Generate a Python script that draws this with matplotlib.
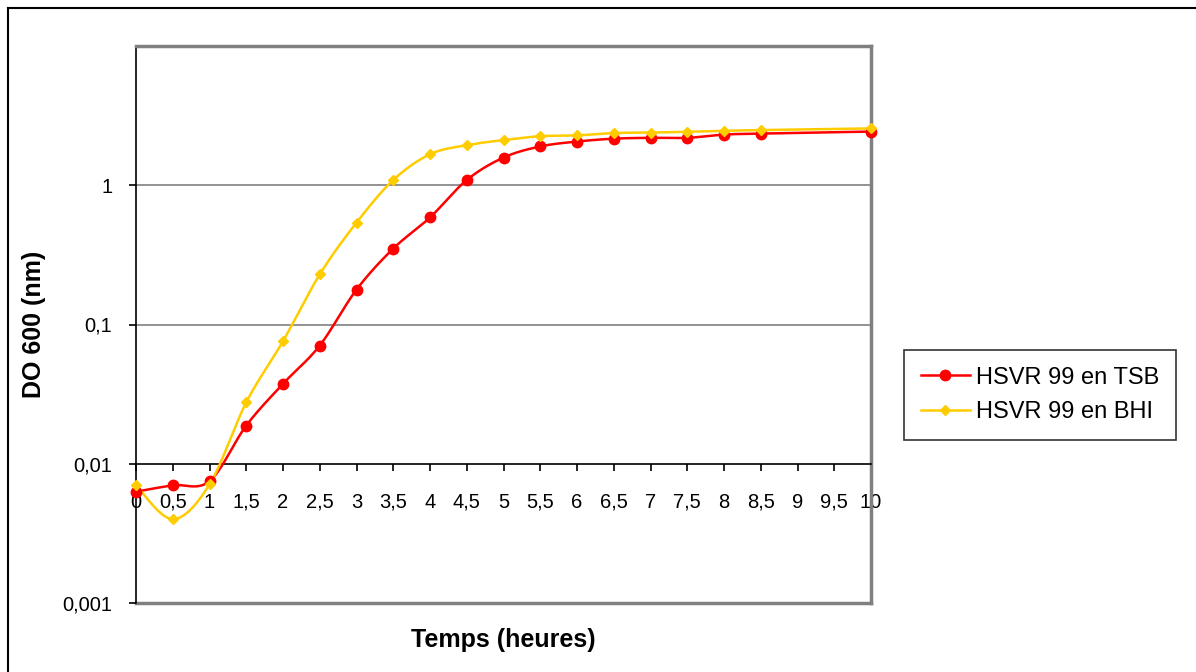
import numpy as np
import matplotlib
matplotlib.use("Agg")
import matplotlib.pyplot as plt
from matplotlib.lines import Line2D

plt.rcParams['font.family'] = ['Liberation Sans', 'DejaVu Sans']

# temps (heures)
temps = [0, 0.5, 1, 1.5, 2, 2.5, 3, 3.5, 4, 4.5, 5, 5.5, 6, 6.5, 7, 7.5, 8, 8.5, 10]

# DO 600 - HSVR 99 en TSB
do_tsb = [0.0063, 0.0070, 0.0075, 0.0188, 0.0375, 0.0706, 0.178, 0.351, 0.587, 1.09,
          1.58, 1.90, 2.06, 2.16, 2.19, 2.19, 2.31, 2.35, 2.43]
# DO 600 - HSVR 99 en BHI
do_bhi = [0.0070, 0.0040, 0.0071, 0.0276, 0.0759, 0.229, 0.539, 1.09, 1.67, 1.94,
          2.11, 2.25, 2.28, 2.37, 2.39, 2.42, 2.46, 2.49, 2.56]

labels = ["HSVR 99 en TSB", "HSVR 99 en BHI"]
colors = ["#FF0000", "#FFCC00"]

x_ticks = np.arange(0, 10.5, 0.5)
y_ticks = [0.001, 0.01, 0.1, 1]


def comma(v):
    return f"{v:g}".replace(".", ",")


def smooth(x, y, n=24):
    # Excel-like smoothed line: Catmull-Rom through the points (log y space)
    p = np.column_stack([x, np.log10(y)])
    p = np.vstack([p[0], p, p[-1]])
    t = np.linspace(0, 1, n, endpoint=False)[:, None]
    segs = []
    for i in range(1, len(p) - 2):
        p0, p1, p2, p3 = p[i - 1], p[i], p[i + 1], p[i + 2]
        segs.append(0.5 * (2 * p1 + (-p0 + p2) * t
                           + (2 * p0 - 5 * p1 + 4 * p2 - p3) * t ** 2
                           + (-p0 + 3 * p1 - 3 * p2 + p3) * t ** 3))
    segs.append(p[-2][None])
    s = np.vstack(segs)
    return s[:, 0], 10 ** s[:, 1]


fig = plt.figure(figsize=(11.96, 6.72), dpi=100)
ax = fig.add_axes([136 / 1196, 1 - 603 / 672, 735 / 1196, 557 / 672])

ax.set_yscale('log')
ax.set_xlim(0, 10)
ax.set_ylim(0.001, 10)

# gridlines
for g in [0.1, 1]:
    ax.axhline(g, color='#808080', lw=1.2, zorder=1)
ax.axhline(0.001, color='#808080', lw=2.5, zorder=1, clip_on=False)

handles = []
for yv, c, lab, mk, ms in [(do_tsb, colors[0], labels[0], 'o', 7.5),
                           (do_bhi, colors[1], labels[1], 'D', 5.5)]:
    sx, sy = smooth(temps, yv)
    ax.plot(sx, sy, color=c, lw=1.8, zorder=3, clip_on=False)
    ax.plot(temps, yv, ls='none', marker=mk, ms=ms, color=c, zorder=4, clip_on=False)
    handles.append(Line2D([], [], color=c, lw=1.8, marker=mk, ms=ms))

# axes frame
ax.spines['bottom'].set_position(('data', 0.01))
ax.spines['bottom'].set_color('black')
ax.spines['bottom'].set_linewidth(1.2)
ax.spines['left'].set_color('black')
ax.spines['left'].set_linewidth(1.2)
for s in ['top', 'right']:
    ax.spines[s].set_color('#808080')
    ax.spines[s].set_linewidth(2.5)

ax.set_xticks(x_ticks)
ax.set_xticklabels([comma(v) for v in x_ticks])
ax.set_yticks(y_ticks)
ax.set_yticklabels([comma(v) for v in y_ticks])
ax.minorticks_off()
ax.yaxis.set_minor_locator(matplotlib.ticker.NullLocator())
ax.tick_params(axis='x', direction='out', length=5, width=1.2, pad=16, labelsize=14.5)
ax.tick_params(axis='y', direction='out', length=5, width=1.2, pad=12, labelsize=14.5)

ax.set_xlabel("Temps (heures)", fontsize=18, fontweight='bold')
ax.set_ylabel("DO 600 (nm)", fontsize=18, fontweight='bold')
ax.xaxis.set_label_coords(0.5, -0.066)
ax.xaxis.label.set_va('center')
ax.yaxis.set_label_coords((34 - 136) / 735, 0.5)
ax.yaxis.label.set_va('center')
ax.yaxis.label.set_ha('center')

leg = fig.legend(handles, labels, loc='center left',
                 bbox_to_anchor=(904 / 1196, 1 - 395 / 672),
                 fontsize=17, frameon=True, fancybox=False,
                 borderpad=0.7, labelspacing=0.55, handlelength=2.1,
                 handletextpad=0.25, borderaxespad=0)
leg.get_frame().set_edgecolor('black')
leg.get_frame().set_linewidth(1.2)

# chart area border (top and left)
fig.add_artist(Line2D([8 / 1196, 8 / 1196], [0, 1 - 8 / 672], color='black', lw=1.5))
fig.add_artist(Line2D([8 / 1196, 1], [1 - 8 / 672, 1 - 8 / 672], color='black', lw=1.5))

fig.savefig("out.png", dpi=100, facecolor='white')
